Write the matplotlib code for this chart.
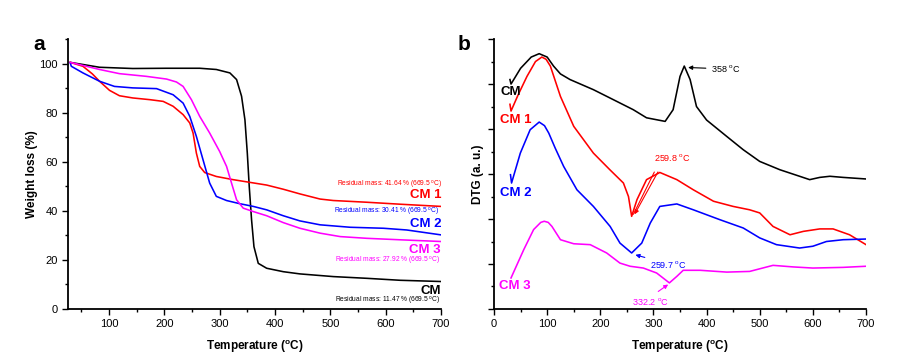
import matplotlib
matplotlib.use("Agg")
import matplotlib.pyplot as plt
from matplotlib.ticker import MultipleLocator

plt.rcParams['font.family'] = ['Liberation Sans', 'DejaVu Sans']
plt.rcParams['mathtext.fontset'] = 'custom'
plt.rcParams['mathtext.rm'] = 'Liberation Sans'
plt.rcParams['mathtext.bf'] = 'Liberation Sans:bold'

# ---- TGA data (panel a) ----
tga_cm_t = [30, 83, 143, 204, 264, 294, 318.5, 330.6, 339.6, 345.7, 350, 353.5, 357.7, 362, 369.8,
            385, 415, 445, 505.6, 566, 626, 700]
tga_cm_w = [100.5, 98.5, 98, 98.1, 98.1, 97.6, 96.2, 93.5, 86.7, 77.1, 63.5, 49.9, 36.3, 25.4, 18.6,
            16.6, 15.2, 14.3, 13.2, 12.5, 11.7, 11.2]
tga_cm1_t = [30, 53, 70, 83, 101, 119, 143, 174, 198, 216, 234, 246, 252, 258, 264, 273, 294, 324.5,
             354.7, 385, 415, 445, 481.5, 505.6, 566, 626, 700]
tga_cm1_w = [100.5, 98.9, 95.8, 92.8, 89.1, 86.9, 86.0, 85.3, 84.6, 82.6, 79.2, 75.8, 71.7, 63.5, 58.1,
             55.6, 54.0, 52.7, 51.6, 50.5, 48.8, 46.9, 44.8, 44.2, 43.5, 42.7, 41.8]
tga_cm2_t = [30, 32, 53, 83, 110, 143, 186, 216, 234, 246, 258, 270, 282, 294, 312.5, 336.6, 360.8,
             385, 415, 445, 481.5, 536, 596, 638, 700]
tga_cm2_w = [100.3, 98.9, 96.2, 92.8, 90.7, 90.1, 89.8, 87.3, 83.9, 78.5, 70.3, 60.8, 51.3, 45.9,
             44.2, 42.9, 41.8, 40.4, 38.0, 35.9, 34.3, 33.3, 32.9, 32.2, 30.2]
tga_cm3_t = [30, 83, 119, 167.6, 204, 222, 234, 249, 264, 282, 300, 312.5, 321.5, 330.6, 342.6,
             360.8, 385, 415, 445, 481.5, 518, 566, 626, 700]
tga_cm3_w = [100.5, 97.6, 95.9, 94.8, 93.7, 92.5, 90.7, 85.3, 78.5, 71.7, 64.2, 58.1, 51.3, 44.5,
             41.1, 39.7, 38.0, 35.2, 32.9, 30.9, 29.5, 28.8, 28.2, 27.5]

# ---- DTG data (panel b, arbitrary units) ----
dtg_cm_t = [30, 32, 50, 70, 85, 100, 112, 125, 143, 187, 225, 262, 287, 322, 337, 350, 358, 369, 381,
            400, 438, 469, 500, 538, 575, 594, 613, 632, 657, 700]
dtg_cm_v = [10.2, 10.0, 10.7, 11.2, 11.35, 11.2, 10.8, 10.45, 10.2, 9.75, 9.3, 8.86, 8.5, 8.34, 8.86,
            10.34, 10.8, 10.2, 9.0, 8.4, 7.67, 7.08, 6.56, 6.19, 5.9, 5.75, 5.85, 5.9, 5.85, 5.78]
dtg_cm1_t = [30, 32, 45, 62, 78, 90, 98, 106, 125, 150, 187, 218, 243.5, 253, 259, 269, 287, 312,
             344, 375, 413, 450, 481, 500, 525, 557, 582, 613, 638, 669, 700]
dtg_cm1_v = [9.1, 8.8, 9.5, 10.34, 11.0, 11.2, 11.1, 10.8, 9.45, 8.12, 6.93, 6.19, 5.6, 5.0, 4.12,
             4.86, 5.75, 6.07, 5.75, 5.3, 4.79, 4.56, 4.41, 4.27, 3.67, 3.3, 3.45, 3.56, 3.56, 3.3, 2.86]
dtg_cm2_t = [31, 33, 49.5, 68, 85, 95, 103, 115, 131, 156, 187, 218.5, 237, 259, 278, 294, 312,
             344, 375, 425, 469, 500, 531.5, 575, 600, 625.5, 657, 700]
dtg_cm2_v = [5.97, 5.6, 6.93, 7.97, 8.31, 8.15, 7.82, 7.16, 6.34, 5.3, 4.56, 3.67, 2.93, 2.49,
             2.93, 3.82, 4.56, 4.67, 4.41, 3.97, 3.6, 3.16, 2.86, 2.71, 2.79, 3.0, 3.08, 3.11]
dtg_cm3_t = [32, 56, 74.5, 88, 94.5, 102, 109, 125, 150, 181, 212, 237, 256, 281, 306, 330, 344,
             356, 388, 438, 481, 525, 563, 600, 657, 700]
dtg_cm3_v = [1.38, 2.64, 3.53, 3.85, 3.9, 3.85, 3.67, 3.08, 2.9, 2.86, 2.49, 2.04, 1.9, 1.82, 1.6,
             1.16, 1.45, 1.72, 1.72, 1.64, 1.67, 1.94, 1.87, 1.82, 1.85, 1.9]

residuals = ['Residual mass: 41.64 % (669.5 $^{\\mathregular{o}}$C)',
             'Residual mass: 30.41 % (669.5 $^{\\mathregular{o}}$C)',
             'Residual mass: 27.92 % (669.5 $^{\\mathregular{o}}$C)',
             'Residual mass: 11.47 % (669.5 $^{\\mathregular{o}}$C)']

RED, BLUE, MAG, BLK = '#ff0000', '#0000ff', '#ff00ff', '#000000'

fig = plt.figure(figsize=(9.14, 3.58), dpi=100)
ax1 = fig.add_axes([0.0744, 0.1369, 0.4081, 0.754])
ax2 = fig.add_axes([0.5405, 0.1369, 0.407, 0.754])

for ax in (ax1, ax2):
    ax.spines['top'].set_visible(False)
    ax.spines['right'].set_visible(False)
    ax.spines['left'].set_linewidth(1.3)
    ax.spines['bottom'].set_linewidth(1.3)
    ax.tick_params(which='major', direction='out', length=4, width=1, labelsize=8)
    ax.tick_params(which='minor', direction='out', length=2.5, width=1)
    ax.xaxis.set_minor_locator(MultipleLocator(50))
    ax.set_xlabel(r'Temperature ($^{\mathbf{o}}$C)', fontsize=8.5, fontweight='bold', labelpad=6)

# panel a
lw = 1.15
ax1.plot(tga_cm_t, tga_cm_w, color=BLK, lw=lw)
ax1.plot(tga_cm1_t, tga_cm1_w, color=RED, lw=lw)
ax1.plot(tga_cm2_t, tga_cm2_w, color=BLUE, lw=lw)
ax1.plot(tga_cm3_t, tga_cm3_w, color=MAG, lw=lw)
ax1.set_xlim(26, 700)
ax1.set_ylim(0, 110)
ax1.xaxis.set_major_locator(MultipleLocator(100))
ax1.yaxis.set_major_locator(MultipleLocator(20))
ax1.yaxis.set_minor_locator(MultipleLocator(10))
ax1.set_ylabel('Weight loss (%)', fontsize=8.5, fontweight='bold', labelpad=0.5)

lab_kw = dict(ha='right', va='center', fontsize=9.5, fontweight='bold')
ax1.text(700, 46.3, 'CM 1', color=RED, **lab_kw)
ax1.text(700, 34.7, 'CM 2', color=BLUE, **lab_kw)
ax1.text(700, 24.2, 'CM 3', color=MAG, **lab_kw)
ax1.text(700, 7.5, 'CM', color=BLK, **lab_kw)
res_kw = dict(ha='right', va='center', fontsize=4.8)
ax1.text(702, 50.7, residuals[0], color=RED, **res_kw)
ax1.text(697, 39.6, residuals[1], color=BLUE, **res_kw)
ax1.text(698, 19.5, residuals[2], color=MAG, **res_kw)
ax1.text(698, 3.3, residuals[3], color=BLK, **res_kw)

# panel b
ax2.plot(dtg_cm_t, dtg_cm_v, color=BLK, lw=lw)
ax2.plot(dtg_cm1_t, dtg_cm1_v, color=RED, lw=lw)
ax2.plot(dtg_cm2_t, dtg_cm2_v, color=BLUE, lw=lw)
ax2.plot(dtg_cm3_t, dtg_cm3_v, color=MAG, lw=lw)
ax2.set_xlim(0, 700)
ax2.set_ylim(0, 12)
ax2.xaxis.set_major_locator(MultipleLocator(100))
ax2.yaxis.set_major_locator(MultipleLocator(2))
ax2.yaxis.set_minor_locator(MultipleLocator(1))
ax2.set_yticklabels([])
ax2.set_ylabel('DTG (a. u.)', fontsize=8.5, fontweight='bold', labelpad=0)

lab2 = dict(ha='left', va='center', fontsize=9.5, fontweight='bold')
ax2.text(12, 9.63, 'CM', color=BLK, **lab2)
ax2.text(12, 8.41, 'CM 1', color=RED, **lab2)
ax2.text(11, 5.16, 'CM 2', color=BLUE, **lab2)
ax2.text(10, 1.0, 'CM 3', color=MAG, **lab2)

deg = ' $^{\\mathregular{o}}$C'
ax2.annotate('358' + deg, xy=(360, 10.74), xytext=(409, 10.67), fontsize=6.5, color=BLK,
             va='center', arrowprops=dict(arrowstyle='-|>', color=BLK, lw=0.8, mutation_scale=6))
ax2.text(301, 6.74, '259.8' + deg, fontsize=6.5, color=RED, va='center')
ax2.annotate('', xy=(260, 4.1), xytext=(304, 6.2),
             arrowprops=dict(arrowstyle='-', color=RED, lw=0.8))
ax2.annotate('', xy=(262, 4.1), xytext=(311, 6.2),
             arrowprops=dict(arrowstyle='-|>', color=RED, lw=0.8, mutation_scale=6))
ax2.annotate('259.7' + deg, xy=(261, 2.44), xytext=(294, 2.0), fontsize=6.5, color=BLUE,
             va='center', arrowprops=dict(arrowstyle='-|>', color=BLUE, lw=0.8, mutation_scale=6))
ax2.annotate('332.2' + deg, xy=(332, 1.16), xytext=(259, 0.34), fontsize=6.5, color=MAG,
             va='center', arrowprops=dict(arrowstyle='-|>', color=MAG, lw=0.8, mutation_scale=6,
                                          relpos=(0.55, 1.0)))

fig.text(33 / 914, 1 - 45 / 358, 'a', fontsize=15, fontweight='bold', va='center', ha='left')
fig.text(458 / 914, 1 - 45 / 358, 'b', fontsize=15, fontweight='bold', va='center', ha='left')

fig.savefig('out.png', dpi=100)
